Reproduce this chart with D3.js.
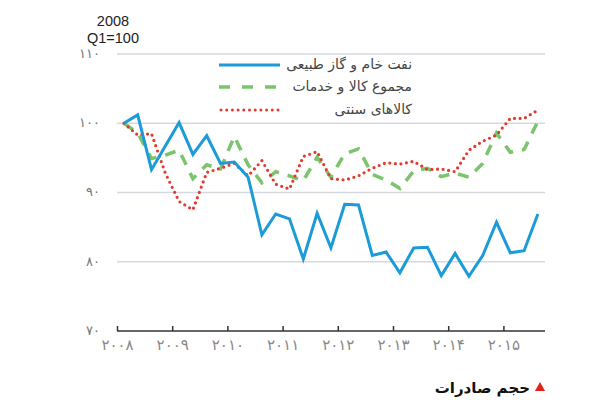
<!DOCTYPE html>
<html>
<head>
<meta charset="utf-8">
<script src="https://cdn.jsdelivr.net/npm/d3@7/dist/d3.min.js"></script>
<style>
  html, body { margin: 0; padding: 0; background: #fff; }
  svg { display: block; }
</style>
</head>
<body>
<svg id="chart" width="600" height="400"></svg>
<script>
// ---- data (2008 Q1 = 100), quarterly 2008Q1 .. 2015Q3 ----
const quarters = d3.range(31).map(i => 2008 + (i + 0.5) / 4);
const oilGas = [100, 101.2, 93.3, 96.7, 100.1, 95.5, 98.2, 94.2, 94.4, 92.2,
                83.9, 86.9, 86.2, 80.4, 87.0, 82.0, 88.3, 88.2, 80.9, 81.4,
                78.4, 82.0, 82.1, 78.0, 81.2, 77.9, 80.9, 85.7, 81.3, 81.6, 86.9];
const totalGoods = [100, 98.6, 94.9, 95.4, 96.1, 92.0, 94.0, 93.4, 98.1, 94.0,
                    91.4, 93.0, 92.4, 91.7, 95.1, 92.2, 95.6, 96.3, 92.6, 91.8,
                    90.6, 93.1, 93.5, 92.3, 92.8, 92.2, 94.2, 98.6, 95.8, 96.2, 100.3];
const traditional = [100, 98.3, 98.5, 92.8, 88.7, 87.5, 92.9, 93.5, 94.2, 92.4,
                     94.6, 91.2, 90.5, 95.2, 95.9, 92.0, 91.8, 92.4, 93.5, 94.3,
                     94.1, 94.5, 93.3, 93.4, 93.0, 96.1, 97.4, 98.3, 100.7, 100.7, 101.9];
const yTicks = [70, 80, 90, 100, 110];
const yTickLabels = ["۷۰", "۸۰", "۹۰", "۱۰۰", "۱۱۰"];
const xTicks = [2008, 2009, 2010, 2011, 2012, 2013, 2014, 2015];
const xTickLabels = ["۲۰۰۸", "۲۰۰۹", "۲۰۱۰", "۲۰۱۱", "۲۰۱۲", "۲۰۱۳", "۲۰۱۴", "۲۰۱۵"];
const seriesNames = ["نفت خام و گاز طبیعی", "مجموع کالا و خدمات", "کالاهای سنتی"];
const unitLabel = ["2008", "Q1=100"];
const caption = "حجم صادرات";

// ---- layout ----
const svg = d3.select("#chart");
const x = d3.scaleLinear().domain([2008, 2016]).range([117, 558.6]);
const y = d3.scaleLinear().domain([70, 110]).range([331, 54]);
const xEnd = 545;
const faFont = "'DejaVu Sans', sans-serif";

// gridlines
svg.append("g").selectAll("line")
  .data(yTicks.filter(v => v > 70))
  .join("line")
  .attr("x1", x(2008)).attr("x2", xEnd)
  .attr("y1", d => y(d)).attr("y2", d => y(d))
  .attr("stroke", "#d5d9de").attr("stroke-width", 1.5);

// y labels
svg.append("g").selectAll("text")
  .data(yTicks)
  .join("text")
  .attr("x", 100).attr("y", d => y(d))
  .attr("dy", "0.3em")
  .attr("text-anchor", "end")
  .attr("font-family", faFont).attr("font-size", 13)
  .attr("letter-spacing", "2px")
  .attr("fill", "#777")
  .text((d, i) => yTickLabels[i]);

// x axis
const xAxis = d3.axisBottom(x)
  .tickValues(xTicks)
  .tickSize(-5)
  .tickSizeOuter(0)
  .tickPadding(8)
  .tickFormat((d, i) => xTickLabels[i]);
const gx = svg.append("g").attr("transform", `translate(0,${y(70)})`).call(xAxis);
gx.select(".domain").attr("d", `M${x(2008)},0H${xEnd}`).attr("stroke", "#333").attr("stroke-width", 1.5);
gx.selectAll(".tick line").attr("stroke", "#333").attr("stroke-width", 1.5);
gx.selectAll(".tick text")
  .attr("font-family", faFont).attr("font-size", 15)
  .attr("fill", "#888").attr("letter-spacing", "3px");

// lines
const line = d3.line().x((d, i) => x(quarters[i])).y(d => y(d));
svg.append("path").datum(totalGoods)
  .attr("d", line).attr("fill", "none")
  .attr("stroke", "#7cc46b").attr("stroke-width", 3.5)
  .attr("stroke-dasharray", "11,9");
svg.append("path").datum(traditional)
  .attr("d", line).attr("fill", "none")
  .attr("stroke", "#e23a2e").attr("stroke-width", 3.2)
  .attr("stroke-linecap", "round")
  .attr("stroke-dasharray", "0,5.6");
svg.append("path").datum(oilGas)
  .attr("d", line).attr("fill", "none")
  .attr("stroke", "#1b9bd7").attr("stroke-width", 3)
  .attr("stroke-linejoin", "miter");

// legend
const legend = svg.append("g");
const legY = [65, 87, 110];
const legStyles = [
  { stroke: "#1b9bd7", width: 3, dash: null, cap: "butt" },
  { stroke: "#7cc46b", width: 3.5, dash: "11,12", cap: "butt" },
  { stroke: "#e23a2e", width: 3, dash: "0,5.7", cap: "round" }
];
const legTexts = [];
seriesNames.forEach((name, i) => {
  const st = legStyles[i];
  const ln = legend.append("line")
    .attr("x1", i === 2 ? 221 : 219).attr("x2", 280)
    .attr("y1", legY[i]).attr("y2", legY[i])
    .attr("stroke", st.stroke).attr("stroke-width", st.width)
    .attr("stroke-linecap", st.cap);
  if (st.dash) ln.attr("stroke-dasharray", st.dash);
  legTexts.push(legend.append("text")
    .attr("x", 412).attr("y", legY[i])
    .attr("dy", "0.3em")
    .attr("text-anchor", "end")
    .attr("font-family", faFont).attr("font-size", 16)
    .attr("fill", "#444")
    .text(name));
});
// fit the longest legend label into the space right of the swatches (x 286..412)
const w0 = legTexts[0].node().getComputedTextLength();
const fs = Math.min(17, 16 * 126 / w0);
legTexts.forEach(t => t.attr("font-size", fs));

// unit label
svg.append("text")
  .attr("x", 113).attr("y", 26)
  .attr("text-anchor", "middle")
  .attr("font-family", "'Liberation Sans', Arial, sans-serif").attr("font-size", 14.5)
  .attr("fill", "#222")
  .selectAll("tspan").data(unitLabel).join("tspan")
  .attr("x", 113).attr("dy", (d, i) => i === 0 ? 0 : 17)
  .text(d => d);

// caption
svg.append("path")
  .attr("d", d3.symbol(d3.symbolTriangle, 45)())
  .attr("transform", "translate(540,388)")
  .attr("fill", "#e2231a");
svg.append("text")
  .attr("x", 530).attr("y", 388)
  .attr("dy", "0.35em")
  .attr("text-anchor", "end")
  .attr("font-family", faFont).attr("font-size", 15).attr("font-weight", "bold")
  .attr("fill", "#111")
  .text(caption);
</script>
</body>
</html>
